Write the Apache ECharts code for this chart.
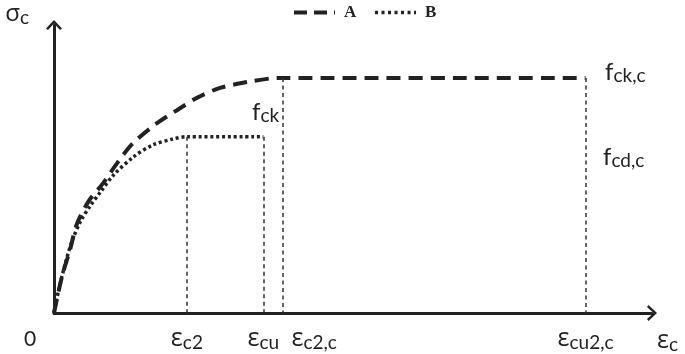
<!DOCTYPE html>
<html><head><meta charset="utf-8">
<script src="https://cdn.jsdelivr.net/npm/echarts@6/dist/echarts.min.js"></script>
<style>html,body{margin:0;padding:0;background:#fff}#c{width:685px;height:354px}</style>
</head><body><div id="c"></div>
<script>
// ---- data ----
const seriesNames = ['A', 'B'];
const curveA = [[0,0],[0.12,6.2],[0.24,10.7],[0.34,15.0],[0.52,19.0],[0.74,22.1],[0.95,25.5],[1.19,28.9],[1.55,32.3],[1.85,34.5],[2.15,36.6],[2.50,38.3],[2.91,39.3],[3.25,39.9],[3.45,40],[8.0,40]];
const curveB = [[0,0],[0.07,3.9],[0.17,8.4],[0.27,12.2],[0.40,15.6],[0.55,18.3],[0.70,20.6],[0.89,23.4],[1.19,26.5],[1.49,28.6],[1.79,29.6],[2.0,30],[3.15,30]];
const guideDrops = [[2.0,30],[3.15,30],[3.45,40],[8.0,40]];
const xTickValues = [0, 2.0, 3.15, 3.45, 8.0];
const xTickSubs = ['', 'c2', 'cu', 'c2,c', 'cu2,c'];
const xMax = 9, yMax = 49;

const INK = '#222';
const LAT = 'Lato, "Open Sans", sans-serif';
const GRK = '"Open Sans", "DejaVu Sans", sans-serif';

const chart = echarts.init(document.getElementById('c'));
const arrowPath = 'path://M0,8.5 L8,0 L16,8.5 L14,10 L8,3.5 L2,10 Z';

chart.setOption({
  animation: false,
  backgroundColor: '#fff',
  grid: { left: 54, right: 685 - 652, top: 25, bottom: 354 - 313 },
  legend: {
    data: [
      { name: seriesNames[0], lineStyle: { width: 4, type: [13, 7] } },
      { name: seriesNames[1], lineStyle: { width: 3.5, type: [3, 3.5] } }
    ],
    left: 292, top: 4, padding: 0,
    itemWidth: 41, itemHeight: 14, itemGap: 17,
    itemStyle: { opacity: 0 },
    textStyle: { fontFamily: '"Liberation Serif", serif', fontWeight: 'bold', fontSize: 17, color: INK, padding: [0,0,0,4] }
  },
  xAxis: {
    type: 'value', min: 0, max: xMax,
    splitLine: { show: false },
    axisTick: { show: false },
    axisLine: { lineStyle: { color: INK, width: 3 }, symbol: ['none', arrowPath], symbolSize: [16, 10] },
    name: '{e|ε}{s|c}',
    nameLocation: 'end', nameGap: 5,
    nameTextStyle: {
      verticalAlign: 'top', padding: [14, 0, 0, 0],
      rich: {
        e: { fontFamily: GRK, fontSize: 25, color: INK },
        s: { fontFamily: LAT, fontSize: 19, color: INK, padding: [8, 0, 0, 0] }
      }
    },
    axisLabel: {
      customValues: xTickValues,
      margin: 12,
      formatter: function (v) {
        const i = xTickValues.findIndex(t => Math.abs(t - v) < 1e-6);
        if (i === 0) return '{z|0}{p0| }';
        const sub = xTickSubs[i];
        return (i === 3 ? '{p3| }' : '') + '{e|ε}{s|' + sub + '}';
      },
      rich: {
        z: { fontFamily: LAT, fontSize: 21, color: INK, padding: [4, 0, 0, 0] },
        p0: { width: 48 },
        p3: { width: 62 },
        e: { fontFamily: GRK, fontSize: 25, color: INK },
        s: { fontFamily: LAT, fontSize: 19, color: INK, padding: [8, 0, 0, 0] }
      }
    }
  },
  yAxis: {
    type: 'value', min: 0, max: yMax,
    splitLine: { show: false },
    axisTick: { show: false },
    axisLabel: { show: false },
    axisLine: { lineStyle: { color: INK, width: 3 }, symbol: ['none', arrowPath], symbolSize: [16, 10] },
    name: '{e|σ}{s|c}',
    nameLocation: 'end', nameGap: 11,
    nameTextStyle: {
      align: 'right', verticalAlign: 'middle', padding: [0, 25, 0, 0],
      rich: {
        e: { fontFamily: GRK, fontSize: 24, color: INK },
        s: { fontFamily: LAT, fontSize: 19, color: INK, padding: [8, 0, 0, 0] }
      }
    }
  },
  graphic: [
    { type: 'text', left: 605, top: 60, style: { text: '{f|f}{s|ck,c}', rich: { f: { fontFamily: LAT, fontSize: 24, fill: INK }, s: { fontFamily: LAT, fontSize: 19, fill: INK, padding: [8,0,0,0] } } } },
    { type: 'text', left: 603, top: 145, style: { text: '{f|f}{s|cd,c}', rich: { f: { fontFamily: LAT, fontSize: 24, fill: INK }, s: { fontFamily: LAT, fontSize: 19, fill: INK, padding: [8,0,0,0] } } } },
    { type: 'text', left: 252, top: 100, style: { text: '{f|f}{s|ck}', rich: { f: { fontFamily: LAT, fontSize: 24, fill: INK }, s: { fontFamily: LAT, fontSize: 19, fill: INK, padding: [8,0,0,0] } } } }
  ],
  series: [
    {
      name: seriesNames[0], type: 'line', data: curveA, showSymbol: false, symbol: 'none', smooth: 0.3,
      lineStyle: { color: INK, width: 4, type: [14, 8] }, itemStyle: { color: INK }, z: 3
    },
    {
      name: seriesNames[1], type: 'line', data: curveB, showSymbol: false, symbol: 'none', smooth: 0.3,
      lineStyle: { color: INK, width: 3.5, type: [3, 2.8] }, itemStyle: { color: INK }, z: 3
    },
    {
      type: 'line', data: [], silent: true,
      markLine: {
        silent: true, symbol: 'none', animation: false,
        label: { show: false },
        lineStyle: { color: '#333', width: 1.5, type: [4, 3.5] },
        data: guideDrops.map(p => [{ coord: [p[0], p[1]] }, { coord: [p[0], 0] }])
      }
    }
  ]
});
</script></body></html>
